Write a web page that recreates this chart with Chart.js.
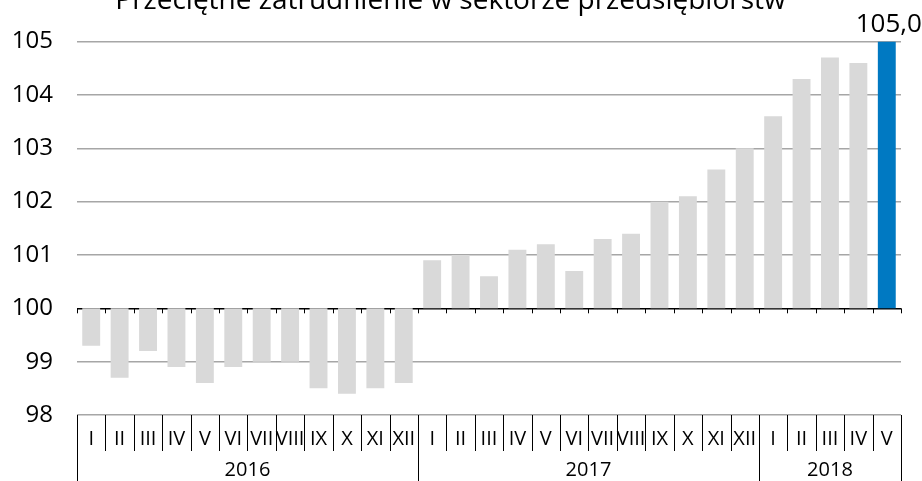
<!DOCTYPE html>
<html>
<head>
<meta charset="utf-8">
<script src="https://cdn.jsdelivr.net/npm/chart.js@4.4.1/dist/chart.umd.min.js"></script>
<style>
  html, body { margin: 0; padding: 0; background: #fff; overflow: hidden; }
  #wrap { position: relative; width: 922px; height: 481px; overflow: hidden; }
  #chart { position: absolute; left: 0; top: -30px; }
</style>
</head>
<body>
<div id="wrap"><canvas id="chart" width="922" height="511"></canvas></div>
<script>
const months = ["I","II","III","IV","V","VI","VII","VIII","IX","X","XI","XII",
                "I","II","III","IV","V","VI","VII","VIII","IX","X","XI","XII",
                "I","II","III","IV","V"];
const years = ["2016", "2017", "2018"];
const yearLengths = [12, 12, 5];
// przeciętne zatrudnienie, analogiczny okres roku poprzedniego = 100
const employment = [99.3, 98.7, 99.2, 98.9, 98.6, 98.9, 99.0, 99.0, 98.5, 98.4, 98.5, 98.6,
                    100.9, 101.0, 100.6, 101.1, 101.2, 100.7, 101.3, 101.4, 102.0, 102.1, 102.6, 103.0,
                    103.6, 104.3, 104.7, 104.6, 105.0];
const base = 100;
const yTicks = [98, 99, 100, 101, 102, 103, 104, 105];

const FONT = "'Open Sans', 'Noto Sans', sans-serif";
const grey = "#d9d9d9";
const blue = "#0079c2";
const last = employment.length - 1;

// table under the bars: month separators, year separators, year labels
const tablePlugin = {
  id: "table",
  afterDraw(chart) {
    const { ctx, scales: { x, y }, chartArea } = chart;
    const half = (x.getPixelForValue(1) - x.getPixelForValue(0)) / 2;
    const top = chartArea.bottom;
    const y100 = y.getPixelForValue(base);
    const yearEdges = [0];
    yearLengths.forEach(n => yearEdges.push(yearEdges[yearEdges.length - 1] + n));

    ctx.save();
    ctx.strokeStyle = "#000";
    ctx.lineWidth = 1;
    for (let i = 0; i <= months.length; i++) {
      const px = Math.round((i < months.length ? x.getPixelForValue(i) - half : x.getPixelForValue(i - 1) + half)) + 0.5;
      const isYear = yearEdges.includes(i);
      ctx.beginPath();
      ctx.moveTo(px, top);
      ctx.lineTo(px, isYear ? chart.height : top + 36);
      // small tick marks on the 100 line
      ctx.moveTo(px, y100);
      ctx.lineTo(px, y100 + 5);
      ctx.stroke();
    }

    ctx.fillStyle = "#000";
    ctx.font = "20px " + FONT;
    ctx.textAlign = "center";
    ctx.textBaseline = "middle";
    years.forEach((yr, k) => {
      const a = x.getPixelForValue(yearEdges[k]) - half;
      const b = x.getPixelForValue(yearEdges[k + 1] - 1) + half;
      ctx.fillText(yr, (a + b) / 2, top + 55);
    });

    // value label over the highlighted bar
    const bar = chart.getDatasetMeta(0).data[last];
    ctx.font = "26px " + FONT;
    ctx.textBaseline = "bottom";
    ctx.fillText(employment[last].toFixed(1).replace(".", ","), bar.x + 2, bar.y - 4);
    ctx.restore();
  }
};

new Chart(document.getElementById("chart"), {
  type: "bar",
  plugins: [tablePlugin],
  data: {
    labels: months,
    datasets: [{
      data: employment.map(v => [base, v]),
      backgroundColor: employment.map((v, i) => i === last ? blue : grey),
      borderWidth: 0,
      categoryPercentage: 1,
      barPercentage: 0.63
    }]
  },
  options: {
    responsive: false,
    animation: false,
    devicePixelRatio: 1,
    layout: { padding: { left: 0, right: 21, top: 0, bottom: 0 } },
    plugins: {
      legend: { display: false },
      tooltip: { enabled: false },
      title: {
        display: true,
        text: "Przeciętne zatrudnienie w sektorze przedsiębiorstw",
        color: "#000",
        font: { family: FONT, size: 28, weight: "normal" },
        padding: { top: 14, bottom: 24 }
      }
    },
    scales: {
      x: {
        grid: { display: false, drawTicks: false },
        border: { display: false },
        ticks: {
          color: "#000",
          font: { family: FONT, size: 20 },
          padding: 12,
          autoSkip: false,
          maxRotation: 0
        },
        afterFit: s => { s.height = 66; }
      },
      y: {
        min: 98,
        max: 105,
        afterBuildTicks: s => { s.ticks = yTicks.map(v => ({ value: v })); },
        grid: {
          drawTicks: false,
          color: c => c.tick && c.tick.value === base ? "#000" : "#a6a6a6",
          lineWidth: 1.5
        },
        border: { display: false },
        ticks: {
          color: "#000",
          font: { family: FONT, size: 24 },
          padding: 24
        },
        afterFit: s => { s.width = 77; }
      }
    }
  }
});
</script>
</body>
</html>
